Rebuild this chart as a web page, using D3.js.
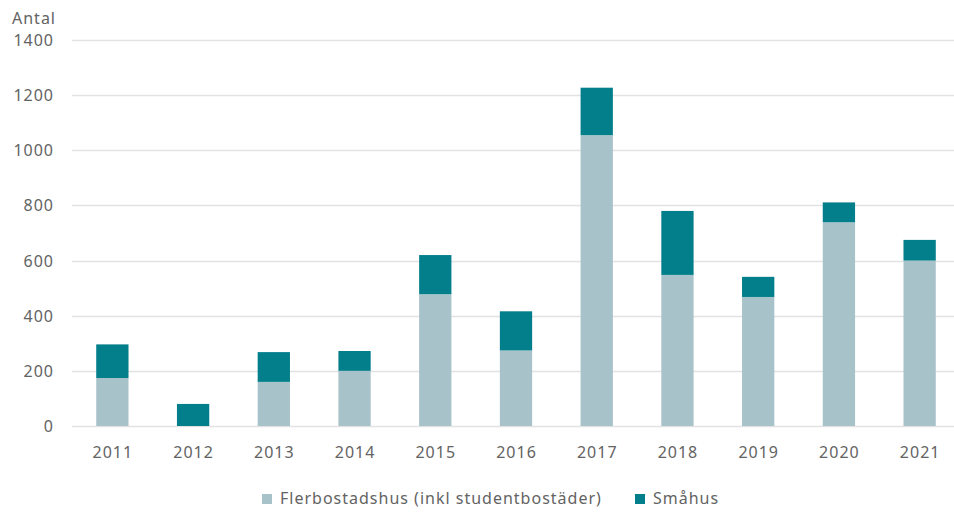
<!DOCTYPE html>
<html>
<head>
    <meta charset="utf-8">
    <script src="https://d3js.org/d3.v7.min.js"></script>
    <style>
        body { margin: 0; background: #fff; }
        text { font-family: "Noto Sans", sans-serif; fill: #636363; letter-spacing: 1px; }
    </style>
</head>
<body>
    <svg id="plot" width="954" height="524"></svg>
    <script>
        // data
        const years = ["2011", "2012", "2013", "2014", "2015", "2016", "2017", "2018", "2019", "2020", "2021"];
        const flerbostadshus = [174, 0, 160, 200, 478, 274, 1055, 548, 468, 739, 600];
        const smahus = [122, 80, 108, 72, 142, 142, 172, 232, 73, 72, 75];
        const yTicks = [0, 200, 400, 600, 800, 1000, 1200, 1400];
        const seriesNames = ["Flerbostadshus (inkl studentbostäder)", "Småhus"];
        const colors = ["#a7c3c9", "#037f8c"];

        const svg = d3.select('svg#plot');
        const width = +svg.attr('width');

        const rows = years.map((y, i) => ({year: y, f: flerbostadshus[i], s: smahus[i]}));
        const stack = d3.stack().keys(["f", "s"])(rows);

        const x = d3.scaleBand().domain(years).range([72, 960]).paddingInner(0.6).paddingOuter(0.3);
        const y = d3.scaleLinear().domain([0, 1400]).range([426, 40]);

        // gridlines
        svg.append('g')
            .selectAll('line')
            .data(yTicks)
            .join('line')
            .attr('x1', 72)
            .attr('x2', width)
            .attr('y1', d => Math.round(y(d)) + 0.5)
            .attr('y2', d => Math.round(y(d)) + 0.5)
            .style('stroke', '#e2e2e2')
            .style('stroke-width', 1.5);

        // y labels
        svg.append('g')
            .selectAll('text')
            .data(yTicks)
            .join('text')
            .attr('x', 54)
            .attr('y', d => y(d) + 6)
            .attr('text-anchor', 'end')
            .attr('font-size', '16px')
            .text(d => d);

        svg.append('text')
            .attr('x', 12)
            .attr('y', 24)
            .attr('font-size', '16px')
            .text('Antal');

        // bars
        svg.append('g')
            .selectAll('g')
            .data(stack)
            .join('g')
            .style('fill', (d, i) => colors[i])
            .selectAll('rect')
            .data(d => d)
            .join('rect')
            .attr('x', d => x(d.data.year))
            .attr('width', x.bandwidth())
            .attr('y', d => y(d[1]))
            .attr('height', d => y(d[0]) - y(d[1]));

        // x labels
        svg.append('g')
            .selectAll('text')
            .data(years)
            .join('text')
            .attr('x', d => x(d) + x.bandwidth() / 2 + 0.5)
            .attr('y', 458)
            .attr('text-anchor', 'middle')
            .attr('font-size', '16px')
            .text(d => d);

        // legend
        const legendX = [262, 635];
        const legend = svg.append('g')
            .selectAll('g')
            .data(seriesNames)
            .join('g')
            .attr('transform', (d, i) => `translate(${legendX[i]},494)`);
        legend.append('rect')
            .attr('width', 10)
            .attr('height', 10)
            .style('fill', (d, i) => colors[i]);
        legend.append('text')
            .attr('x', 18)
            .attr('y', 10)
            .attr('font-size', '16px')
            .text(d => d);
    </script>
</body>
</html>
